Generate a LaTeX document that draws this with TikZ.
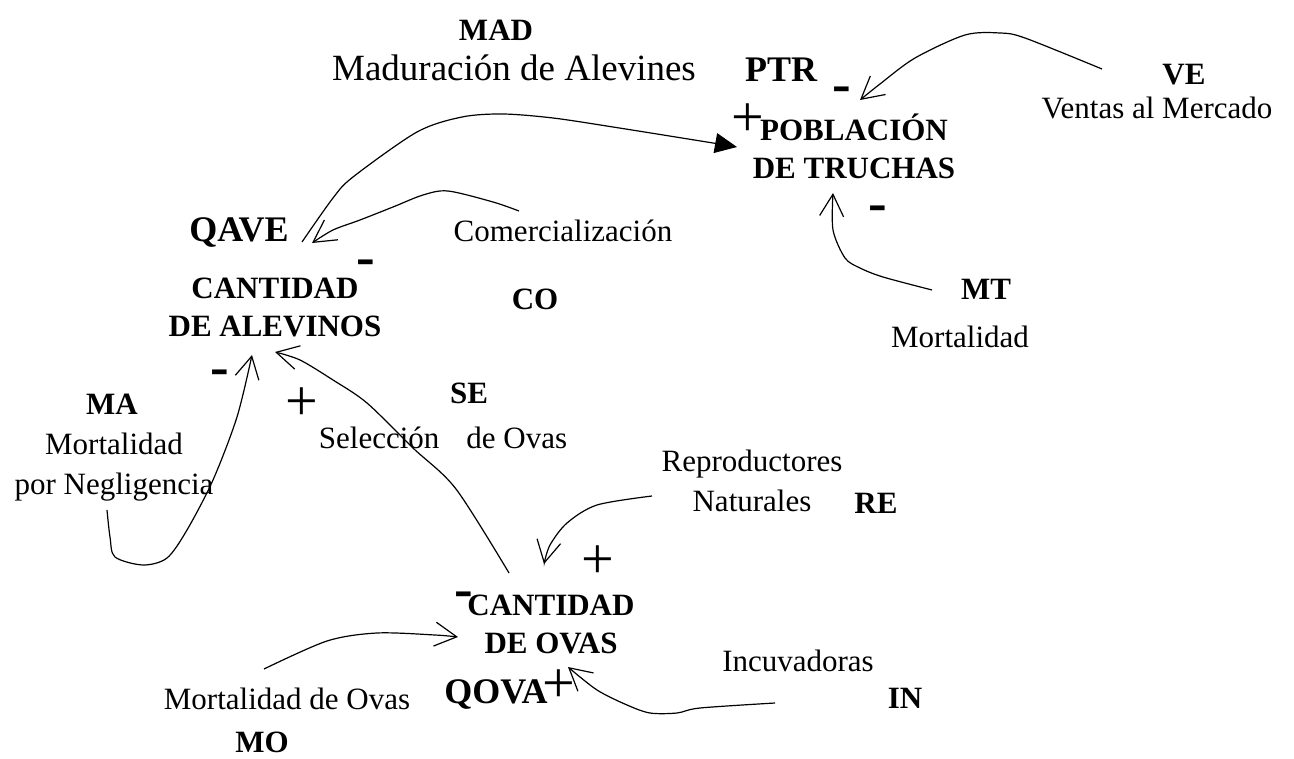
\documentclass[tikz,border=0pt]{standalone}
\usepackage{fontspec}
\setmainfont{Liberation Serif}
\usetikzlibrary{arrows.meta}

\begin{document}
\begin{tikzpicture}[x=1pt, y=-1pt, line width=1.2pt,
    txt/.style={inner sep=0pt, anchor=base, font=\fontsize{31}{40}\selectfont},
    var/.style={txt, font=\fontsize{31}{40}\selectfont\bfseries},
    bigvar/.style={txt, font=\fontsize{36}{40}\selectfont\bfseries},
    stock/.style={inner sep=0pt, align=center, font=\fontsize{31}{38}\selectfont\bfseries},
    sgn/.style={inner sep=0pt, font=\fontsize{58}{60}\selectfont},
    flow/.style={-{Straight Barb[length=22pt,width=24pt]}},
    feed/.style={-{Triangle[length=22pt,width=20pt]}}]
\useasboundingbox (0,0) rectangle (1294,759);

\node[var] (mad) at (496,41) {MAD};
\node[txt, font=\fontsize{37}{40}\selectfont] (madtxt) at (514,81) {Maduración de Alevines};
\node[bigvar] (ptr) at (781,82) {PTR};
\node[stock] (pob) at (854,146) {POBLACIÓN\\DE TRUCHAS};
\node[var] (ve) at (1184,85) {VE};
\node[txt] (vetxt) at (1157,119) {Ventas al Mercado};

\node[bigvar] (qave) at (239,242) {QAVE};
\node[stock] (cantal) at (275,307) {CANTIDAD\\DE ALEVINOS};
\node[txt] (comer) at (563,242) {Comercialización};
\node[var] (co) at (535,310) {CO};
\node[var] (mt) at (986,300) {MT};
\node[txt] (mttxt) at (960,348) {Mortalidad};

\node[var] (ma) at (112,414) {MA};
\node[txt, align=center, anchor=center] (matxt) at (114,467) {Mortalidad\\por Negligencia};
\node[var] (se) at (469,403) {SE};
\node[txt] (setxt) at (443,448) {Selección\hspace{27pt}de Ovas};
\node[txt, align=center, anchor=center] (repro) at (752,481) {Reproductores\\Naturales};
\node[var] (re) at (876,513) {RE};

\node[stock] (cantov) at (551,624) {CANTIDAD\\DE OVAS};
\node[bigvar] (qova) at (496,703) {QOVA};
\node[txt] (incu) at (798,671) {Incuvadoras};
\node[var] (incod) at (905,708) {IN};
\node[txt] (mortov) at (287,709) {Mortalidad de Ovas};
\node[var] (mo) at (262,752) {MO};

% signs of the links
\foreach \x/\y [count=\i] in {748/120, 302/404, 598/562, 559/686}
{
    \node[sgn] (plus\i) at (\x,\y) {+};
}
\foreach \x/\y [count=\i] in {842/95, 878/214, 366/268, 220/378, 464/600}
{
    \node[sgn, font=\fontsize{56}{60}\selectfont\bfseries] (minus\i) at (\x,\y) {-};
}

% free ends of the links
\coordinate (ve-out) at (1102,69);
\coordinate (ptr-in) at (860,100);
\coordinate (qave-out) at (302,242);
\coordinate (pob-in) at (737,147);
\coordinate (comer-out) at (519,211);
\coordinate (qave-in) at (312,243);
\coordinate (mt-out) at (932,290);
\coordinate (pob-mt) at (833,193);
\coordinate (ma-out) at (107,510);
\coordinate (cantal-ma) at (252,355);
\coordinate (cantov-out) at (509,573);
\coordinate (cantal-se) at (275,352);
\coordinate (re-out) at (652,496);
\coordinate (cantov-re) at (544,564);
\coordinate (incod-out) at (775,703);
\coordinate (qova-in) at (568,667);
\coordinate (mortov-out) at (264,669);
\coordinate (cantov-mo) at (458,637);

\draw[flow] plot[smooth] coordinates {(ve-out) (1025,38) (1000,33) (965,35) (915,58) (880,84) (ptr-in)};
\draw[feed] plot[smooth] coordinates {(qave-out) (333,198) (353,177) (417,132) (462,117) (503,114) (553,118) (613,127) (713,143) (pob-in)};
\draw[flow] plot[smooth] coordinates {(comer-out) (493,202) (448,191) (423,195) (393,207) (360,220) (333,230) (qave-in)};
\draw[flow] plot[smooth] coordinates {(mt-out) (883,277) (860,268) (845,258) (833,230) (pob-mt)};
\draw[flow] plot[smooth] coordinates {(ma-out) (110,537) (115,557) (143,565) (167,558) (187,530) (213,480) (237,417) (cantal-ma)};
\draw[flow] plot[smooth] coordinates {(cantov-out) (456,489) (413,448) (367,403) (333,380) (300,360) (cantal-se)};
\draw[flow] plot[smooth] coordinates {(re-out) (597,505) (567,523) (550,545) (cantov-re)};
\draw[flow] plot[smooth] coordinates {(incod-out) (700,708) (677,713) (650,713) (627,705) (597,690) (qova-in)};
\draw[flow] plot[smooth] coordinates {(mortov-out) (327,641) (377,633) (435,635) (cantov-mo)};
\end{tikzpicture}
\end{document}
